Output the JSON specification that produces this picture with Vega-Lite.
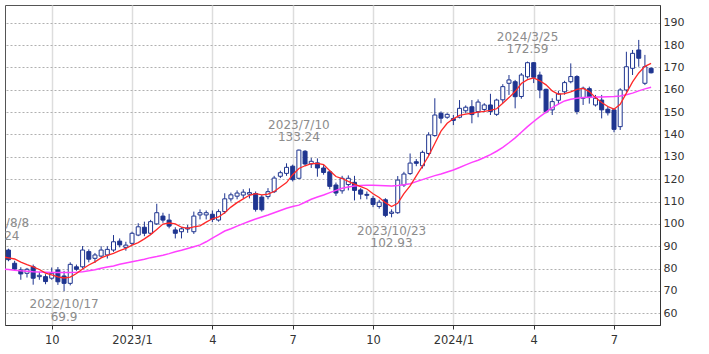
{
 "$schema": "https://vega.github.io/schema/vega-lite/v6.json",
 "width": 655, "height": 320,
 "autosize": {"type": "none"},
 "padding": {"left": 5, "top": 5, "right": 49, "bottom": 29},
 "background": "white",
 "config": {"view": {"stroke": "#555", "strokeWidth": 1}, "font": "DejaVu Sans"},
 "data": {"values": [
{"date":"2022-08-08T00:00:00","open":86.0,"high":89.24,"low":85.0,"close":88.0,"ma13":85.3,"ma26":79.8},
{"date":"2022-08-15T00:00:00","open":88.3,"high":88.9,"low":83.3,"close":84.0,"ma13":84.8,"ma26":79.6},
{"date":"2022-08-22T00:00:00","open":82.4,"high":83.5,"low":79.0,"close":79.8,"ma13":84.3,"ma26":79.3},
{"date":"2022-08-29T00:00:00","open":79.4,"high":80.6,"low":75.0,"close":77.6,"ma13":82.9,"ma26":79.0},
{"date":"2022-09-05T00:00:00","open":77.9,"high":80.3,"low":76.0,"close":79.7,"ma13":81.8,"ma26":78.8},
{"date":"2022-09-12T00:00:00","open":80.8,"high":81.8,"low":72.8,"close":75.7,"ma13":80.8,"ma26":78.6},
{"date":"2022-09-19T00:00:00","open":76.4,"high":78.5,"low":75.0,"close":77.0,"ma13":79.6,"ma26":78.5},
{"date":"2022-09-26T00:00:00","open":76.4,"high":77.5,"low":73.0,"close":74.2,"ma13":78.0,"ma26":78.4},
{"date":"2022-10-03T00:00:00","open":75.7,"high":80.5,"low":75.0,"close":77.9,"ma13":77.2,"ma26":78.3},
{"date":"2022-10-10T00:00:00","open":79.4,"high":80.7,"low":72.7,"close":74.1,"ma13":76.3,"ma26":78.2},
{"date":"2022-10-17T00:00:00","open":76.7,"high":79.0,"low":69.9,"close":73.4,"ma13":75.8,"ma26":78.2},
{"date":"2022-10-24T00:00:00","open":73.4,"high":82.8,"low":72.5,"close":81.9,"ma13":76.2,"ma26":78.3},
{"date":"2022-10-31T00:00:00","open":80.8,"high":81.8,"low":79.0,"close":79.7,"ma13":77.8,"ma26":78.4},
{"date":"2022-11-07T00:00:00","open":80.8,"high":90.1,"low":80.0,"close":88.3,"ma13":79.8,"ma26":78.6},
{"date":"2022-11-14T00:00:00","open":87.6,"high":88.6,"low":82.8,"close":84.2,"ma13":81.6,"ma26":79.0},
{"date":"2022-11-21T00:00:00","open":84.6,"high":87.0,"low":82.5,"close":86.1,"ma13":83.0,"ma26":79.5},
{"date":"2022-11-28T00:00:00","open":85.6,"high":90.0,"low":84.9,"close":88.3,"ma13":84.8,"ma26":80.2},
{"date":"2022-12-05T00:00:00","open":86.1,"high":90.0,"low":84.5,"close":88.6,"ma13":85.9,"ma26":80.7},
{"date":"2022-12-12T00:00:00","open":88.3,"high":95.0,"low":87.5,"close":92.0,"ma13":86.8,"ma26":81.2},
{"date":"2022-12-19T00:00:00","open":92.3,"high":93.5,"low":89.5,"close":90.6,"ma13":88.0,"ma26":81.9},
{"date":"2022-12-26T00:00:00","open":89.5,"high":92.0,"low":88.0,"close":90.5,"ma13":89.0,"ma26":82.5},
{"date":"2023-01-02T00:00:00","open":91.3,"high":96.5,"low":90.5,"close":95.8,"ma13":90.5,"ma26":83.1},
{"date":"2023-01-09T00:00:00","open":95.0,"high":100.3,"low":94.5,"close":98.7,"ma13":91.6,"ma26":83.6},
{"date":"2023-01-16T00:00:00","open":98.5,"high":101.0,"low":94.5,"close":95.8,"ma13":93.3,"ma26":84.2},
{"date":"2023-01-23T00:00:00","open":95.8,"high":101.8,"low":95.0,"close":101.0,"ma13":95.2,"ma26":84.9},
{"date":"2023-01-30T00:00:00","open":100.0,"high":109.0,"low":99.5,"close":105.0,"ma13":97.5,"ma26":85.4},
{"date":"2023-02-06T00:00:00","open":103.5,"high":105.0,"low":100.5,"close":101.7,"ma13":99.9,"ma26":86.0},
{"date":"2023-02-13T00:00:00","open":101.7,"high":104.5,"low":98.0,"close":99.0,"ma13":100.4,"ma26":86.7},
{"date":"2023-02-20T00:00:00","open":97.3,"high":98.5,"low":93.5,"close":95.8,"ma13":100.0,"ma26":87.5},
{"date":"2023-02-27T00:00:00","open":96.5,"high":98.5,"low":93.5,"close":97.8,"ma13":98.5,"ma26":88.2},
{"date":"2023-03-06T00:00:00","open":97.7,"high":99.5,"low":96.0,"close":98.2,"ma13":98.0,"ma26":89.0},
{"date":"2023-03-13T00:00:00","open":96.5,"high":105.5,"low":95.5,"close":103.5,"ma13":98.7,"ma26":89.8},
{"date":"2023-03-20T00:00:00","open":104.0,"high":106.5,"low":102.0,"close":105.0,"ma13":99.1,"ma26":90.6},
{"date":"2023-03-27T00:00:00","open":104.0,"high":106.0,"low":102.0,"close":105.0,"ma13":100.8,"ma26":92.0},
{"date":"2023-04-03T00:00:00","open":104.3,"high":106.0,"low":100.8,"close":102.0,"ma13":102.3,"ma26":93.6},
{"date":"2023-04-10T00:00:00","open":101.7,"high":106.5,"low":101.0,"close":105.5,"ma13":103.1,"ma26":95.2},
{"date":"2023-04-17T00:00:00","open":105.5,"high":113.7,"low":104.5,"close":111.2,"ma13":105.0,"ma26":96.8},
{"date":"2023-04-24T00:00:00","open":111.2,"high":114.0,"low":110.0,"close":113.0,"ma13":107.5,"ma26":97.8},
{"date":"2023-05-01T00:00:00","open":112.4,"high":115.0,"low":111.0,"close":113.8,"ma13":109.5,"ma26":99.0},
{"date":"2023-05-08T00:00:00","open":112.9,"high":115.5,"low":111.5,"close":114.2,"ma13":111.2,"ma26":100.1},
{"date":"2023-05-15T00:00:00","open":113.3,"high":115.9,"low":111.4,"close":114.0,"ma13":112.8,"ma26":101.2},
{"date":"2023-05-22T00:00:00","open":113.6,"high":114.5,"low":105.5,"close":106.5,"ma13":113.5,"ma26":102.2},
{"date":"2023-05-29T00:00:00","open":112.0,"high":112.9,"low":105.5,"close":106.3,"ma13":113.0,"ma26":103.1},
{"date":"2023-06-05T00:00:00","open":112.2,"high":116.0,"low":111.0,"close":114.4,"ma13":113.3,"ma26":104.0},
{"date":"2023-06-12T00:00:00","open":114.4,"high":121.5,"low":113.8,"close":120.5,"ma13":114.5,"ma26":105.0},
{"date":"2023-06-19T00:00:00","open":121.3,"high":123.8,"low":120.5,"close":122.9,"ma13":116.5,"ma26":106.0},
{"date":"2023-06-26T00:00:00","open":122.6,"high":127.1,"low":121.5,"close":125.3,"ma13":118.5,"ma26":107.0},
{"date":"2023-07-03T00:00:00","open":125.8,"high":126.5,"low":119.0,"close":119.8,"ma13":122.0,"ma26":107.8},
{"date":"2023-07-10T00:00:00","open":120.4,"high":133.24,"low":120.0,"close":133.0,"ma13":124.8,"ma26":108.4},
{"date":"2023-07-17T00:00:00","open":132.5,"high":133.0,"low":126.0,"close":126.8,"ma13":126.0,"ma26":109.7},
{"date":"2023-07-24T00:00:00","open":126.8,"high":129.5,"low":125.0,"close":128.0,"ma13":127.0,"ma26":111.0},
{"date":"2023-07-31T00:00:00","open":127.3,"high":129.3,"low":121.1,"close":125.0,"ma13":127.1,"ma26":112.0},
{"date":"2023-08-07T00:00:00","open":125.0,"high":126.3,"low":122.0,"close":123.0,"ma13":126.5,"ma26":112.9},
{"date":"2023-08-14T00:00:00","open":123.3,"high":124.0,"low":115.5,"close":116.8,"ma13":123.8,"ma26":114.0},
{"date":"2023-08-21T00:00:00","open":117.4,"high":118.5,"low":112.5,"close":113.8,"ma13":121.2,"ma26":115.0},
{"date":"2023-08-28T00:00:00","open":114.8,"high":121.5,"low":113.5,"close":120.4,"ma13":120.3,"ma26":115.9},
{"date":"2023-09-04T00:00:00","open":117.6,"high":121.7,"low":115.0,"close":120.4,"ma13":119.0,"ma26":116.5},
{"date":"2023-09-11T00:00:00","open":118.6,"high":121.5,"low":110.5,"close":115.0,"ma13":117.8,"ma26":117.0},
{"date":"2023-09-18T00:00:00","open":115.2,"high":116.0,"low":111.0,"close":113.3,"ma13":116.7,"ma26":117.2},
{"date":"2023-09-25T00:00:00","open":113.2,"high":114.5,"low":111.0,"close":112.8,"ma13":115.6,"ma26":117.3},
{"date":"2023-10-02T00:00:00","open":111.4,"high":112.5,"low":107.5,"close":108.7,"ma13":113.5,"ma26":117.3},
{"date":"2023-10-09T00:00:00","open":107.8,"high":110.8,"low":106.8,"close":109.7,"ma13":111.8,"ma26":117.2},
{"date":"2023-10-16T00:00:00","open":110.8,"high":111.5,"low":103.0,"close":103.8,"ma13":109.5,"ma26":117.1},
{"date":"2023-10-23T00:00:00","open":104.7,"high":106.5,"low":102.93,"close":105.3,"ma13":107.8,"ma26":117.0},
{"date":"2023-10-30T00:00:00","open":105.0,"high":121.4,"low":104.5,"close":119.6,"ma13":109.2,"ma26":117.2},
{"date":"2023-11-06T00:00:00","open":117.4,"high":123.3,"low":116.5,"close":122.3,"ma13":113.5,"ma26":117.5},
{"date":"2023-11-13T00:00:00","open":122.5,"high":131.5,"low":121.9,"close":127.2,"ma13":117.0,"ma26":118.0},
{"date":"2023-11-20T00:00:00","open":127.8,"high":129.0,"low":125.8,"close":127.1,"ma13":121.5,"ma26":118.9},
{"date":"2023-11-27T00:00:00","open":126.0,"high":132.8,"low":124.8,"close":132.0,"ma13":125.8,"ma26":119.8},
{"date":"2023-12-04T00:00:00","open":131.5,"high":141.0,"low":130.5,"close":139.8,"ma13":130.5,"ma26":120.7},
{"date":"2023-12-11T00:00:00","open":139.5,"high":156.2,"low":139.0,"close":148.7,"ma13":136.0,"ma26":121.6},
{"date":"2023-12-18T00:00:00","open":149.5,"high":150.3,"low":145.0,"close":147.3,"ma13":141.5,"ma26":122.3},
{"date":"2023-12-25T00:00:00","open":147.7,"high":149.5,"low":147.0,"close":149.0,"ma13":145.0,"ma26":123.2},
{"date":"2024-01-01T00:00:00","open":147.1,"high":148.7,"low":144.2,"close":146.3,"ma13":147.0,"ma26":124.1},
{"date":"2024-01-08T00:00:00","open":147.7,"high":155.4,"low":147.2,"close":151.7,"ma13":148.5,"ma26":125.2},
{"date":"2024-01-15T00:00:00","open":150.6,"high":153.0,"low":149.5,"close":152.2,"ma13":149.1,"ma26":126.4},
{"date":"2024-01-22T00:00:00","open":152.4,"high":155.4,"low":145.0,"close":148.9,"ma13":149.5,"ma26":127.5},
{"date":"2024-01-29T00:00:00","open":150.2,"high":155.7,"low":147.7,"close":154.5,"ma13":150.0,"ma26":128.5},
{"date":"2024-02-05T00:00:00","open":151.2,"high":154.0,"low":150.0,"close":153.2,"ma13":150.3,"ma26":129.7},
{"date":"2024-02-12T00:00:00","open":153.2,"high":158.2,"low":148.7,"close":150.3,"ma13":150.8,"ma26":131.0},
{"date":"2024-02-19T00:00:00","open":149.0,"high":156.0,"low":148.3,"close":155.4,"ma13":151.5,"ma26":132.5},
{"date":"2024-02-26T00:00:00","open":155.5,"high":162.5,"low":154.0,"close":161.4,"ma13":154.0,"ma26":134.2},
{"date":"2024-03-04T00:00:00","open":162.9,"high":166.6,"low":157.7,"close":164.4,"ma13":156.5,"ma26":136.3},
{"date":"2024-03-11T00:00:00","open":163.6,"high":164.4,"low":151.7,"close":156.9,"ma13":159.2,"ma26":138.5},
{"date":"2024-03-18T00:00:00","open":157.0,"high":167.5,"low":156.0,"close":166.6,"ma13":162.8,"ma26":141.0},
{"date":"2024-03-25T00:00:00","open":165.8,"high":172.59,"low":165.0,"close":172.1,"ma13":164.5,"ma26":143.5},
{"date":"2024-04-01T00:00:00","open":172.1,"high":172.4,"low":163.0,"close":165.6,"ma13":165.3,"ma26":145.8},
{"date":"2024-04-08T00:00:00","open":166.6,"high":168.1,"low":156.2,"close":159.9,"ma13":164.0,"ma26":148.0},
{"date":"2024-04-15T00:00:00","open":160.2,"high":160.5,"low":149.5,"close":150.2,"ma13":162.2,"ma26":150.0},
{"date":"2024-04-22T00:00:00","open":151.0,"high":156.2,"low":148.7,"close":154.7,"ma13":159.5,"ma26":152.0},
{"date":"2024-04-29T00:00:00","open":155.3,"high":159.5,"low":153.5,"close":158.2,"ma13":158.0,"ma26":153.6},
{"date":"2024-05-06T00:00:00","open":159.1,"high":164.0,"low":157.8,"close":163.2,"ma13":158.3,"ma26":155.0},
{"date":"2024-05-13T00:00:00","open":163.6,"high":171.8,"low":162.9,"close":165.9,"ma13":159.1,"ma26":155.8},
{"date":"2024-05-20T00:00:00","open":165.9,"high":166.5,"low":149.0,"close":150.3,"ma13":160.2,"ma26":156.2},
{"date":"2024-05-27T00:00:00","open":156.2,"high":161.4,"low":153.2,"close":160.7,"ma13":160.6,"ma26":156.5},
{"date":"2024-06-03T00:00:00","open":160.5,"high":161.4,"low":153.8,"close":156.5,"ma13":159.2,"ma26":156.7},
{"date":"2024-06-10T00:00:00","open":153.2,"high":157.7,"low":152.5,"close":156.2,"ma13":156.5,"ma26":156.8},
{"date":"2024-06-17T00:00:00","open":155.4,"high":157.7,"low":147.2,"close":151.0,"ma13":154.3,"ma26":156.8},
{"date":"2024-06-24T00:00:00","open":151.3,"high":152.5,"low":148.5,"close":149.7,"ma13":152.5,"ma26":156.9},
{"date":"2024-07-01T00:00:00","open":151.0,"high":151.7,"low":141.0,"close":142.3,"ma13":151.3,"ma26":157.0},
{"date":"2024-07-08T00:00:00","open":143.5,"high":160.7,"low":142.0,"close":159.9,"ma13":153.5,"ma26":157.2},
{"date":"2024-07-15T00:00:00","open":159.9,"high":177.0,"low":159.1,"close":170.3,"ma13":158.5,"ma26":157.8},
{"date":"2024-07-22T00:00:00","open":169.6,"high":177.8,"low":166.6,"close":176.3,"ma13":163.5,"ma26":158.5},
{"date":"2024-07-29T00:00:00","open":177.8,"high":182.3,"low":170.3,"close":174.1,"ma13":167.5,"ma26":159.5},
{"date":"2024-08-05T00:00:00","open":162.9,"high":175.6,"low":162.1,"close":170.3,"ma13":170.5,"ma26":160.4},
{"date":"2024-08-12T00:00:00","open":169.6,"high":170.0,"low":167.3,"close":167.6,"ma13":171.8,"ma26":161.1}
 ]},
 "encoding": {
  "x": {"field": "date", "type": "temporal",
   "scale": {"domain": [{"year": 2022, "month": 8, "date": 11, "hours": 2}, {"year": 2024, "month": 8, "date": 22, "hours": 2}], "nice": false, "padding": 0},
   "axis": {"title": null,
    "values": [{"year": 2022, "month": 10, "date": 3}, {"year": 2023, "month": 1, "date": 2}, {"year": 2023, "month": 4, "date": 3}, {"year": 2023, "month": 7, "date": 3}, {"year": 2023, "month": 10, "date": 2}, {"year": 2024, "month": 1, "date": 1}, {"year": 2024, "month": 4, "date": 1}, {"year": 2024, "month": 7, "date": 1}],
    "labelExpr": "month(datum.value) == 0 ? year(datum.value) + '/1' : '' + (month(datum.value) + 1)",
    "grid": true, "gridColor": "#dddddd", "gridWidth": 1.5,
    "tickColor": "#333333", "tickSize": 4, "domainColor": "#333333",
    "labelColor": "#333333", "labelFont": "DejaVu Sans", "labelFontSize": 11.5, "labelPadding": 5,
    "labelFlush": false, "labelOverlap": false}
  }
 },
 "layer": [
  {"mark": {"type": "rule", "color": "#1f3590", "strokeWidth": 1, "clip": true},
   "encoding": {
    "y": {"field": "low", "type": "quantitative",
     "scale": {"domain": [54.77, 197.92], "nice": false, "zero": false},
     "axis": {"orient": "right", "title": null, "values": [60, 70, 80, 90, 100, 110, 120, 130, 140, 150, 160, 170, 180, 190], "grid": true, "gridDash": [2, 2], "gridColor": "#b0b0b0", "ticks": false, "tickSize": 0, "domainColor": "#333333", "labelColor": "#333333", "labelFont": "DejaVu Sans", "labelFontSize": 11, "labelPadding": 3, "labelFlush": false}},
    "y2": {"field": "high"}
   }},
  {"mark": {"type": "bar", "width": 4, "stroke": "#1f3590", "strokeWidth": 1, "clip": true},
   "encoding": {
    "y": {"field": "open", "type": "quantitative", "scale": {"domain": [54.77, 197.92], "nice": false, "zero": false},
     "axis": {"orient": "right", "title": null, "values": [60, 70, 80, 90, 100, 110, 120, 130, 140, 150, 160, 170, 180, 190], "grid": true, "gridDash": [2, 2], "gridColor": "#b0b0b0", "ticks": false, "tickSize": 0, "domainColor": "#333333", "labelColor": "#333333", "labelFont": "DejaVu Sans", "labelFontSize": 11, "labelPadding": 3, "labelFlush": false}},
    "y2": {"field": "close"},
    "fill": {"condition": {"test": "datum.close >= datum.open", "value": "#ffffff"}, "value": "#1f3590"}
   }},
  {"mark": {"type": "line", "color": "#ff40ff", "strokeWidth": 1.5, "clip": true},
   "encoding": {"y": {"field": "ma26", "type": "quantitative", "scale": {"domain": [54.77, 197.92], "nice": false, "zero": false},
     "axis": {"orient": "right", "title": null, "values": [60, 70, 80, 90, 100, 110, 120, 130, 140, 150, 160, 170, 180, 190], "grid": true, "gridDash": [2, 2], "gridColor": "#b0b0b0", "ticks": false, "tickSize": 0, "domainColor": "#333333", "labelColor": "#333333", "labelFont": "DejaVu Sans", "labelFontSize": 11, "labelPadding": 3, "labelFlush": false}}}},
  {"mark": {"type": "line", "color": "#ff2828", "strokeWidth": 1.3, "clip": true},
   "encoding": {"y": {"field": "ma13", "type": "quantitative", "scale": {"domain": [54.77, 197.92], "nice": false, "zero": false},
     "axis": {"orient": "right", "title": null, "values": [60, 70, 80, 90, 100, 110, 120, 130, 140, 150, 160, 170, 180, 190], "grid": true, "gridDash": [2, 2], "gridColor": "#b0b0b0", "ticks": false, "tickSize": 0, "domainColor": "#333333", "labelColor": "#333333", "labelFont": "DejaVu Sans", "labelFontSize": 11, "labelPadding": 3, "labelFlush": false}}}},
  {"data": {"values": [
    {"date": "2022-08-08T00:00:00", "price": 89.24, "label": "2022/8/8", "value": "89.24", "kind": "high"},
    {"date": "2022-10-17T00:00:00", "price": 69.9, "label": "2022/10/17", "value": "69.9", "kind": "low"},
    {"date": "2023-07-10T00:00:00", "price": 133.24, "label": "2023/7/10", "value": "133.24", "kind": "high"},
    {"date": "2023-10-23T00:00:00", "price": 102.93, "label": "2023/10/23", "value": "102.93", "kind": "low"},
    {"date": "2024-03-25T00:00:00", "price": 172.59, "label": "2024/3/25", "value": "172.59", "kind": "high"}
   ]},
   "layer": [
    {"transform": [{"filter": "datum.kind == 'high'"}],
     "mark": {"type": "text", "dy": -24.6, "fontSize": 12, "font": "DejaVu Sans", "color": "#8c8c8c", "clip": true},
     "encoding": {"y": {"field": "price", "type": "quantitative", "scale": {"domain": [54.77, 197.92], "nice": false, "zero": false},
       "axis": {"orient": "right", "title": null, "values": [60, 70, 80, 90, 100, 110, 120, 130, 140, 150, 160, 170, 180, 190], "grid": true, "gridDash": [2, 2], "gridColor": "#b0b0b0", "ticks": false, "tickSize": 0, "domainColor": "#333333", "labelColor": "#333333", "labelFont": "DejaVu Sans", "labelFontSize": 11, "labelPadding": 3, "labelFlush": false}},
      "text": {"field": "label"}}},
    {"transform": [{"filter": "datum.kind == 'high'"}],
     "mark": {"type": "text", "dy": -12.2, "fontSize": 12, "font": "DejaVu Sans", "color": "#8c8c8c", "clip": true},
     "encoding": {"y": {"field": "price", "type": "quantitative", "scale": {"domain": [54.77, 197.92], "nice": false, "zero": false},
       "axis": {"orient": "right", "title": null, "values": [60, 70, 80, 90, 100, 110, 120, 130, 140, 150, 160, 170, 180, 190], "grid": true, "gridDash": [2, 2], "gridColor": "#b0b0b0", "ticks": false, "tickSize": 0, "domainColor": "#333333", "labelColor": "#333333", "labelFont": "DejaVu Sans", "labelFontSize": 11, "labelPadding": 3, "labelFlush": false}},
      "text": {"field": "value"}}},
    {"transform": [{"filter": "datum.kind == 'low'"}],
     "mark": {"type": "text", "dy": 13.3, "fontSize": 12, "font": "DejaVu Sans", "color": "#8c8c8c", "clip": true},
     "encoding": {"y": {"field": "price", "type": "quantitative", "scale": {"domain": [54.77, 197.92], "nice": false, "zero": false},
       "axis": {"orient": "right", "title": null, "values": [60, 70, 80, 90, 100, 110, 120, 130, 140, 150, 160, 170, 180, 190], "grid": true, "gridDash": [2, 2], "gridColor": "#b0b0b0", "ticks": false, "tickSize": 0, "domainColor": "#333333", "labelColor": "#333333", "labelFont": "DejaVu Sans", "labelFontSize": 11, "labelPadding": 3, "labelFlush": false}},
      "text": {"field": "label"}}},
    {"transform": [{"filter": "datum.kind == 'low'"}],
     "mark": {"type": "text", "dy": 26, "fontSize": 12, "font": "DejaVu Sans", "color": "#8c8c8c", "clip": true},
     "encoding": {"y": {"field": "price", "type": "quantitative", "scale": {"domain": [54.77, 197.92], "nice": false, "zero": false},
       "axis": {"orient": "right", "title": null, "values": [60, 70, 80, 90, 100, 110, 120, 130, 140, 150, 160, 170, 180, 190], "grid": true, "gridDash": [2, 2], "gridColor": "#b0b0b0", "ticks": false, "tickSize": 0, "domainColor": "#333333", "labelColor": "#333333", "labelFont": "DejaVu Sans", "labelFontSize": 11, "labelPadding": 3, "labelFlush": false}},
      "text": {"field": "value"}}}
   ]}
 ]
}
